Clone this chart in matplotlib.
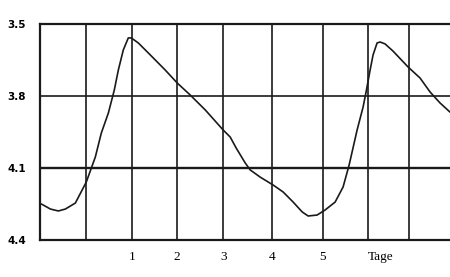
import matplotlib
matplotlib.use("Agg")
import matplotlib.pyplot as plt

# Curve: day vs. value (axis runs 3.5 at top to 4.4 at bottom)
days = [-0.970, -0.775, -0.602, -0.450, -0.234, 0.004, 0.199, 0.329, 0.481, 0.610,
        0.697, 0.805, 0.913, 0.978, 1.130, 1.390, 1.714, 1.974, 2.255, 2.580,
        2.970, 3.121, 3.251, 3.446, 3.554, 3.771, 4.052, 4.268, 4.485, 4.680,
        4.810, 5.004, 5.177, 5.394, 5.567, 5.697, 5.870, 6.000, 6.065, 6.152,
        6.216, 6.303, 6.368, 6.476, 6.649, 6.974, 7.234, 7.450, 7.667, 7.883]
values = [4.250, 4.271, 4.279, 4.271, 4.246, 4.158, 4.054, 3.954, 3.871, 3.775,
          3.692, 3.608, 3.558, 3.558, 3.579, 3.629, 3.692, 3.746, 3.796, 3.858,
          3.942, 3.971, 4.017, 4.079, 4.108, 4.138, 4.171, 4.200, 4.242, 4.283,
          4.300, 4.296, 4.275, 4.242, 4.179, 4.088, 3.942, 3.846, 3.783, 3.692,
          3.629, 3.579, 3.575, 3.583, 3.613, 3.679, 3.725, 3.783, 3.829, 3.867]

# day lines as they sit on the (slightly uneven) printed grid
v_grid = [0.0, 1.0, 1.97, 2.97, 4.03, 5.13, 6.11, 7.0]
x_ticks = [1.0, 1.97, 2.97, 4.03, 5.13]
x_labels = ["1", "2", "3", "4", "5"]
y_ticks = [3.5, 3.8, 4.1, 4.4]
y_labels = ["3.5", "3.8", "4.1", "4.4"]
h_grid = [3.8, 4.1]

fig = plt.figure(figsize=(4.5, 2.77), dpi=100)
fig.patch.set_facecolor("white")
ax = fig.add_axes([40 / 450, 1 - 240 / 277, 1 - 40 / 450, 216 / 277])
ax.set_facecolor("white")

for d in v_grid:
    ax.axvline(d, color="#1a1a1a", linewidth=1.2)
for v in h_grid:
    ax.axhline(v, color="#1a1a1a", linewidth=1.2 if v != 4.1 else 1.7)

ax.plot(days, values, color="#1a1a1a", linewidth=1.2,
        solid_joinstyle="round", solid_capstyle="round")

ax.set_xlim(-1, 7.883)
ax.set_ylim(4.4, 3.5)

for side in ["top", "bottom", "left"]:
    ax.spines[side].set_linewidth(1.6)
    ax.spines[side].set_color("#1a1a1a")
ax.spines["right"].set_visible(False)

ax.set_xticks(x_ticks)
ax.set_xticklabels(x_labels, family="Liberation Serif", fontsize=9.5)
ax.set_yticks(y_ticks)
ax.set_yticklabels(y_labels, family="DejaVu Sans", fontweight="bold", fontsize=7.5)
ax.tick_params(axis="both", length=0)
ax.tick_params(axis="x", pad=8)
ax.tick_params(axis="y", pad=10)

ax.text(6.11, -0.05, "Tage", transform=ax.get_xaxis_transform(), ha="left", va="top",
        family="Liberation Serif", fontsize=9.5)

fig.savefig("out.png", dpi=100)
